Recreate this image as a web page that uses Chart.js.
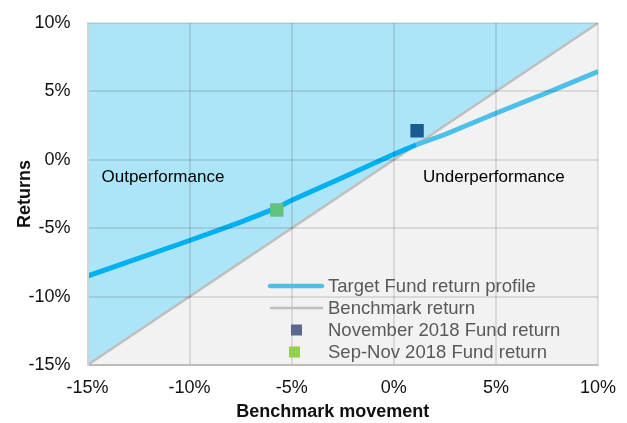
<!DOCTYPE html>
<html>
<head>
<meta charset="utf-8">
<script src="https://cdn.jsdelivr.net/npm/chart.js@4/dist/chart.umd.min.js"></script>
<style>
  html, body { margin: 0; padding: 0; background: #fff; }
  #wrap { width: 627px; height: 423px; }
</style>
</head>
<body>
<div id="wrap"><canvas id="chart" width="627" height="423"></canvas></div>
<script>
/* ====== DATA ====== */
const axisTicks = [-15, -10, -5, 0, 5, 10];

// benchmark movement (x) vs fund return (y), in %
const profileX = [-15, -10, -7.5, -5.7, -5, -2.5, 0, 1.1, 2.5, 5, 7.5, 10];
const profileY = [-8.5, -5.9, -4.55, -3.5, -2.95, -1.3, 0.4, 1.1, 1.85, 3.4, 4.9, 6.45];

const benchmarkX = [-15, 10];
const benchmarkY = [-15, 10];

const novPoint = { x: 1.14, y: 2.13 };
const sepNovPoint = { x: -5.73, y: -3.67 };

const legendLabels = [
  "Target Fund return profile",
  "Benchmark return",
  "November 2018 Fund return",
  "Sep-Nov 2018 Fund return"
];

/* ====== COLOURS ====== */
const BLUE_AREA = "#ade5f8";
const GREY_AREA = "#f2f2f2";
const LINE_DARK = "#00b0f0";
const LINE_LIGHT = "#4dc0ea";
const BENCH = "#bfbfbf";
const FONT = "'Liberation Sans', Arial, sans-serif";

const zip = (xs, ys) => xs.map((x, i) => ({ x: x, y: ys[i] }));

// legend + text labels drawn on the canvas
const overlay = {
  id: "overlay",
  afterDraw(chart) {
    const c = chart.ctx;
    c.save();
    c.textBaseline = "middle";
    c.textAlign = "left";
    c.fillStyle = "#000";
    c.font = "17px " + FONT;
    c.fillText("Outperformance", 101.5, 177);
    c.fillText("Underperformance", 423, 177);

    // legend
    const tx = 328, y0 = 286, dy = 22;
    c.lineCap = "round";
    c.strokeStyle = LINE_LIGHT; c.lineWidth = 4.5;
    c.beginPath(); c.moveTo(270, y0); c.lineTo(322, y0); c.stroke();
    c.lineCap = "butt";
    c.strokeStyle = BENCH; c.lineWidth = 2.5;
    c.beginPath(); c.moveTo(270, y0 + dy); c.lineTo(323, y0 + dy); c.stroke();
    c.fillStyle = "#5b6a8c"; c.fillRect(291, y0 + 2 * dy - 5.5, 11, 11);
    c.fillStyle = "#92d050"; c.fillRect(289, y0 + 3 * dy - 5.5, 11, 11);

    c.fillStyle = "#595959";
    c.font = "18.5px " + FONT;
    legendLabels.forEach((t, i) => c.fillText(t, tx, y0 + i * dy + 1));
    c.restore();
  }
};

new Chart(document.getElementById("chart"), {
  type: "scatter",
  data: {
    datasets: [
      { label: "Nov", data: [novPoint], pointStyle: "rect", pointRadius: 9.5, pointHoverRadius: 9.5,
        backgroundColor: "#1b5c90", borderWidth: 0 },
      { label: "SepNov", data: [sepNovPoint], pointStyle: "rect", pointRadius: 9.5, pointHoverRadius: 9.5,
        backgroundColor: "#63c27e", borderWidth: 0 },
      { label: "Profile", data: zip(profileX, profileY), showLine: true, pointRadius: 0, borderWidth: 5,
        borderColor: LINE_DARK, borderCapStyle: "butt",
        segment: {
          borderColor: ctx => {
            const mx = (ctx.p0.parsed.x + ctx.p1.parsed.x) / 2;
            const my = (ctx.p0.parsed.y + ctx.p1.parsed.y) / 2;
            return my > mx ? LINE_DARK : LINE_LIGHT;
          }
        } },
      { label: "Benchmark", data: zip(benchmarkX, benchmarkY), showLine: true, pointRadius: 0,
        borderWidth: 2.5, borderColor: BENCH, fill: "end", backgroundColor: BLUE_AREA },
      { label: "BenchBelow", data: zip(benchmarkX, benchmarkY), showLine: true, pointRadius: 0,
        borderWidth: 0, fill: "start", backgroundColor: GREY_AREA }
    ]
  },
  options: {
    responsive: false,
    animation: false,
    events: [],
    layout: { padding: { top: 23, right: 29, left: 0, bottom: 0 } },
    plugins: { legend: { display: false }, tooltip: { enabled: false } },
    scales: {
      x: {
        type: "linear", min: -15, max: 10, z: 1,
        afterBuildTicks: s => { s.ticks = axisTicks.map(v => ({ value: v })); },
        afterFit: s => { s.height = 58; s.paddingLeft = 0; s.paddingRight = 0; },
        grid: { color: "rgba(0,0,0,0.1)", lineWidth: 2, drawTicks: false, z: 1 },
        border: { display: true, color: "#d2d2d2", width: 2, z: 1 },
        ticks: { color: "#111", padding: 12, maxRotation: 0,
                 font: { family: FONT, size: 18 }, callback: v => v + "%" },
        title: { display: true, text: "Benchmark movement    ", color: "#111",
                 padding: { top: 0, bottom: 0 },
                 font: { family: FONT, size: 18, weight: "bold" } }
      },
      y: {
        type: "linear", min: -15, max: 10, z: 1,
        afterBuildTicks: s => { s.ticks = axisTicks.map(v => ({ value: v })); },
        afterFit: s => { s.width = 87.5; s.paddingTop = 0; s.paddingBottom = 0; },
        grid: { color: "rgba(0,0,0,0.1)", lineWidth: 2, drawTicks: false, z: 1 },
        border: { display: true, color: "#d2d2d2", width: 2, z: 1 },
        ticks: { color: "#111", padding: 17,
                 font: { family: FONT, size: 18 }, callback: v => v + "%" },
        title: { display: true, text: "Returns", color: "#111",
                 padding: { top: 14, bottom: 0 },
                 font: { family: FONT, size: 18, weight: "bold" } }
      }
    }
  },
  plugins: [overlay]
});
</script>
</body>
</html>
